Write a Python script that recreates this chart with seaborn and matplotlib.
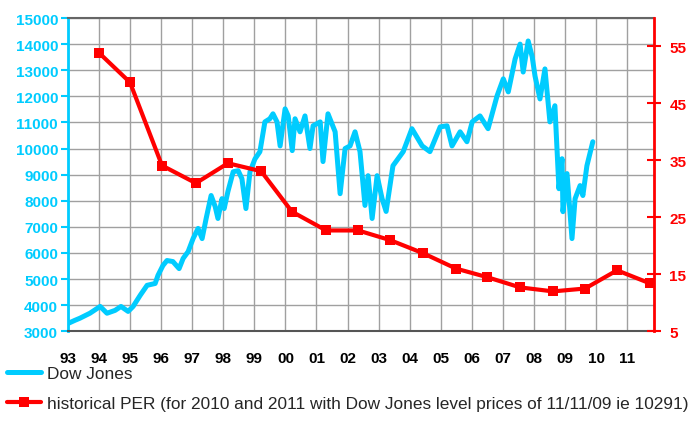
import pandas as pd
import matplotlib.pyplot as plt
import seaborn as sns

# Dow Jones level (decimal year, index points)
dow_year = [1993.01, 1993.23, 1993.39, 1993.71, 1994.04, 1994.26, 1994.52, 1994.71, 1994.94,
            1995.10, 1995.33, 1995.55, 1995.81, 1995.90, 1996.06, 1996.19, 1996.38, 1996.58,
            1996.71, 1996.87, 1997.03, 1997.19, 1997.32, 1997.45, 1997.61, 1997.74, 1997.83,
            1997.96, 1998.03, 1998.15, 1998.32, 1998.48, 1998.60, 1998.73, 1998.86, 1999.02,
            1999.18, 1999.34, 1999.50, 1999.60, 1999.73, 1999.83, 1999.99, 2000.09, 2000.22,
            2000.31, 2000.47, 2000.63, 2000.79, 2000.89, 2001.12, 2001.21, 2001.37, 2001.60,
            2001.76, 2001.92, 2002.08, 2002.24, 2002.40, 2002.56, 2002.66, 2002.79, 2002.95,
            2003.11, 2003.24, 2003.46, 2003.79, 2004.07, 2004.40, 2004.65, 2004.98, 2005.20,
            2005.36, 2005.62, 2005.84, 2006.01, 2006.26, 2006.52, 2006.81, 2007.01, 2007.17,
            2007.39, 2007.55, 2007.65, 2007.81, 2007.94, 2008.03, 2008.19, 2008.35, 2008.51,
            2008.67, 2008.80, 2008.90, 2008.93, 2009.06, 2009.22, 2009.32, 2009.48, 2009.57,
            2009.70, 2009.89]
dow_value = [3300, 3420, 3500, 3690, 3950, 3690, 3800, 3950, 3760,
             3950, 4380, 4760, 4830, 5140, 5520, 5710, 5670, 5400,
             5790, 6050, 6550, 6940, 6550, 7320, 8200, 7780, 7320,
             8080, 7700, 8350, 9110, 9150, 8850, 7700, 9110, 9600,
             9880, 11020, 11140, 11330, 11020, 10100, 11520, 11250, 9920,
             11140, 10640, 11250, 10000, 10870, 11020, 9500, 11330, 10640,
             8270, 10000, 10100, 10640, 9880, 7820, 8960, 7320, 8960,
             8080, 7590, 9340, 9880, 10760, 10100, 9880, 10830, 10870,
             10100, 10640, 10260, 11020, 11250, 10760, 12020, 12670, 12170,
             13430, 14000, 12930, 14120, 13510, 12780, 11900, 13050, 11020,
             11640, 8460, 9610, 7580, 9040, 6550, 8080, 8580, 8200,
             9340, 10260]

# historical PER (right axis)
per_year = [1994.00, 1995.00, 1996.03, 1997.12, 1998.15, 1999.22, 2000.21, 2001.31, 2002.34,
            2003.37, 2004.43, 2005.49, 2006.49, 2007.55, 2008.61, 2009.64, 2010.67, 2011.73]
per_value = [53.9, 48.7, 34.1, 31.0, 34.5, 33.1, 26.0, 22.7, 22.7,
             21.0, 18.7, 16.0, 14.5, 12.7, 12.0, 12.5, 15.7, 13.4]

year_labels = ['93', '94', '95', '96', '97', '98', '99', '00', '01', '02',
               '03', '04', '05', '06', '07', '08', '09', '10', '11']

blue = '#00CCFF'
red = '#FF0000'

sns.set_style('white')
plt.rcParams['font.family'] = ['Liberation Sans', 'DejaVu Sans']

fig = plt.figure(figsize=(6.9, 4.35), dpi=100)
ax = fig.add_axes([0.0983, 0.2362, 0.8496, 0.7201])
ax2 = ax.twinx()

dow = pd.DataFrame({'year': dow_year, 'value': dow_value})
per = pd.DataFrame({'year': per_year, 'per': per_value})

sns.lineplot(data=dow, x='year', y='value', ax=ax, color=blue, lw=3.6,
             label='Dow Jones', legend=False, zorder=3)
sns.lineplot(data=per, x='year', y='per', ax=ax2, color=red, lw=3, marker='s',
             markersize=6.5, markeredgewidth=0,
             label='historical PER (for 2010 and 2011 with Dow Jones level prices of 11/11/09 ie 10291)',
             legend=False)

ax.set_xlim(1993, 2011.86)
ax.set_ylim(3000, 15000)
ax2.set_ylim(5, 60)
ax.set_xticks(range(1993, 2012))
ax.set_xticklabels(year_labels)
ax.set_yticks(range(3000, 15001, 1000))
ax2.set_yticks(range(5, 56, 10))
ax.set_xlabel('')
ax.set_ylabel('')
ax2.set_ylabel('')

ax.grid(True, color='#a0a0a0', lw=1)
ax.set_axisbelow(True)

ax.tick_params(axis='x', colors='#555555', labelcolor='black', length=6, width=1,
               direction='out', pad=8, labelsize=11)
for t in ax.get_xticklabels():
    t.set_fontweight('bold')
ax.tick_params(axis='y', colors=blue, labelcolor=blue, length=5, width=1.5,
               direction='out', pad=2, labelsize=11)
for t in ax.get_yticklabels():
    t.set_fontweight('bold')
ax2.tick_params(axis='y', colors=red, labelcolor=red, length=10, width=1.5,
                direction='inout', pad=6, labelsize=11)
for t in ax2.get_yticklabels():
    t.set_fontweight('bold')

ax.spines['left'].set_color(blue)
ax.spines['left'].set_linewidth(2)
ax.spines['right'].set_visible(False)
ax.spines['top'].set_color('#666666')
ax.spines['top'].set_linewidth(1.5)
ax.spines['bottom'].set_color('#555555')
ax.spines['bottom'].set_linewidth(1.5)
for s in ['left', 'top', 'bottom']:
    ax2.spines[s].set_visible(False)
ax2.spines['right'].set_color(red)
ax2.spines['right'].set_linewidth(2)

h1, l1 = ax.get_legend_handles_labels()
h2, l2 = ax2.get_legend_handles_labels()
fig.legend(h1 + h2, l1 + l2, loc='upper left', bbox_to_anchor=(0.01, 0.157),
           frameon=False, fontsize=12.4, handlelength=2.0, handletextpad=0.3,
           labelspacing=0.9, borderpad=0, borderaxespad=0)

fig.savefig('out.png', dpi=100)
